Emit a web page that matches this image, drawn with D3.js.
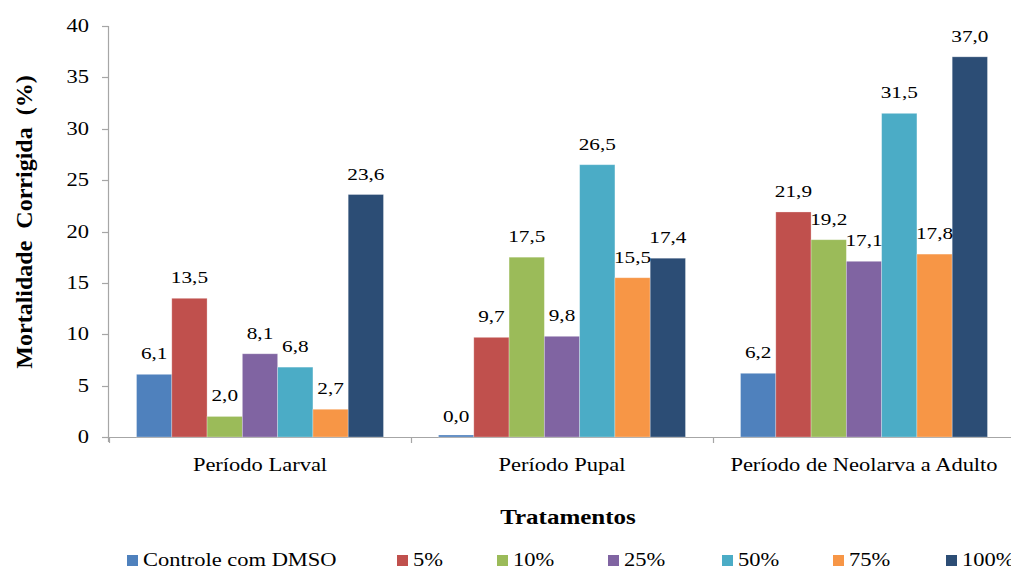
<!DOCTYPE html>
<html>
<head>
<meta charset="utf-8">
<script src="https://cdn.jsdelivr.net/npm/d3@7"></script>
<style>
  body { margin: 0; background: #fff; }
  text { font-family: "Liberation Serif", "Times New Roman", serif; fill: #000; }
</style>
</head>
<body>
<svg width="1011" height="570"></svg>
<script>
// data
var categories = ["Período Larval", "Período Pupal", "Período de Neolarva a Adulto"];
var series = ["Controle com DMSO", "5%", "10%", "25%", "50%", "75%", "100%"];
var colors = ["#4F81BD", "#C0504D", "#9BBB59", "#8064A2", "#4BACC6", "#F79646", "#2C4D75"];
// values per series, in category order
var controle = [6.1, 0.0, 6.2];
var p5 = [13.5, 9.7, 21.9];
var p10 = [2.0, 17.5, 19.2];
var p25 = [8.1, 9.8, 17.1];
var p50 = [6.8, 26.5, 31.5];
var p75 = [2.7, 15.5, 17.8];
var p100 = [23.6, 17.4, 37.0];
var values = [controle, p5, p10, p25, p50, p75, p100];
var yTicks = [0, 5, 10, 15, 20, 25, 30, 35, 40];

var svg = d3.select("svg");
var sx = 1.25; // text in the original is stretched horizontally

var y = d3.scaleLinear().domain([0, 40]).range([437, 26]);
var x0 = d3.scaleBand().domain(categories).range([109, 1015]);
var x1 = d3.scaleBand().domain(series).range([0, x0.bandwidth()]).paddingInner(0).paddingOuter(0.78);
var fmt = function(v) { return d3.format(".1f")(v).replace(".", ","); };

// axes
svg.append("line").attr("x1", 108.5).attr("x2", 108.5).attr("y1", y(40)).attr("y2", y(0) + 5)
  .attr("stroke", "#a6a6a6").attr("stroke-width", 1.2);
svg.append("line").attr("x1", 108).attr("x2", 1011).attr("y1", 437.5).attr("y2", 437.5)
  .attr("stroke", "#a6a6a6").attr("stroke-width", 1.2);

svg.selectAll(".ytick").data(yTicks).enter().append("line")
  .attr("x1", 102).attr("x2", 108.5)
  .attr("y1", function(d) { return Math.round(y(d)) + 0.5; })
  .attr("y2", function(d) { return Math.round(y(d)) + 0.5; })
  .attr("stroke", "#a6a6a6").attr("stroke-width", 1.2);

svg.selectAll(".ylab").data(yTicks).enter().append("text")
  .attr("text-anchor", "end").attr("font-size", 18)
  .attr("transform", function(d) { return "translate(89," + (y(d) + 6) + ") scale(" + sx + ",1)"; })
  .text(function(d) { return d; });

var xt = categories.map(function(c) { return x0(c); }).concat([x0(categories[2]) + x0.bandwidth()]);
svg.selectAll(".xtick").data(xt).enter().append("line")
  .attr("x1", function(d) { return d + 0.5; }).attr("x2", function(d) { return d + 0.5; })
  .attr("y1", 437.5).attr("y2", 443)
  .attr("stroke", "#a6a6a6").attr("stroke-width", 1.2);

svg.selectAll(".xlab").data(categories).enter().append("text")
  .attr("text-anchor", "middle").attr("font-size", 18)
  .attr("transform", function(d) { return "translate(" + (x0(d) + x0.bandwidth() / 2) + ",471) scale(" + sx + ",1)"; })
  .text(function(d) { return d; });

// bars
var flat = [];
categories.forEach(function(c, ci) {
  series.forEach(function(s, si) {
    flat.push({ cat: c, ser: s, si: si, v: values[si][ci] });
  });
});

svg.selectAll(".bar").data(flat).enter().append("rect")
  .attr("x", function(d) { return x0(d.cat) + x1(d.ser); })
  .attr("width", x1.bandwidth())
  .attr("y", function(d) { return Math.min(y(d.v), y(0) - 2); })
  .attr("height", function(d) { return Math.max(y(0) - y(d.v), 2); })
  .attr("fill", function(d) { return colors[d.si]; })
  .attr("stroke", "#fff").attr("stroke-opacity", 0.35).attr("stroke-width", 0.8);

svg.selectAll(".vlab").data(flat).enter().append("text")
  .attr("text-anchor", "middle").attr("font-size", 17)
  .attr("transform", function(d) {
    return "translate(" + (x0(d.cat) + x1(d.ser) + x1.bandwidth() / 2) + "," + (y(d.v) - 15) + ") scale(" + sx + ",1)";
  })
  .text(function(d) { return fmt(d.v); });

// axis titles
svg.append("text").attr("text-anchor", "middle").attr("font-size", 20).attr("font-weight", "bold")
  .attr("transform", "translate(568,524) scale(" + sx + ",1)")
  .text("Tratamentos");

svg.append("text").attr("text-anchor", "middle").attr("font-size", 24).attr("font-weight", "bold")
  .attr("transform", "translate(32,222) rotate(-90)")
  .attr("xml:space", "preserve")
  .text("Mortalidade  Corrigida  (%)");

// legend
var legX = [127, 397, 497, 608, 722, 833, 946];
var leg = svg.selectAll(".leg").data(series).enter().append("g")
  .attr("transform", function(d, i) { return "translate(" + legX[i] + ",0)"; });
leg.append("rect").attr("x", 0).attr("y", 555).attr("width", 11).attr("height", 11)
  .attr("fill", function(d, i) { return colors[i]; });
leg.append("text").attr("font-size", 18)
  .attr("transform", "translate(16,566) scale(" + sx + ",1)")
  .text(function(d) { return d; });
</script>
</body>
</html>
